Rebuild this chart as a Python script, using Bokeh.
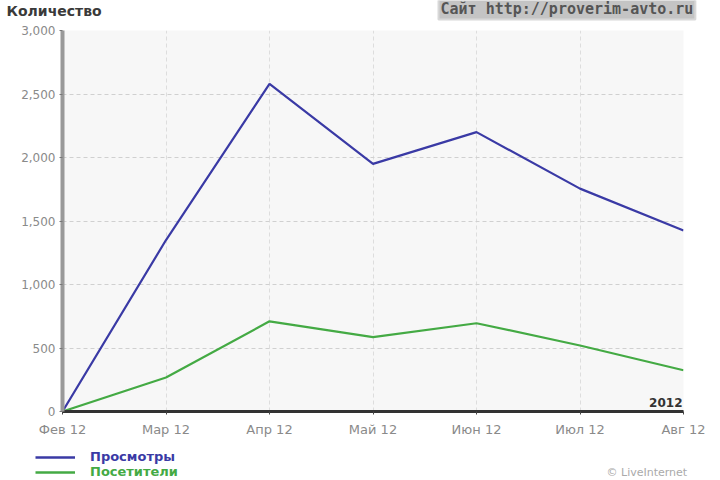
from bokeh.plotting import figure
from bokeh.models import Label, Legend, LegendItem, FixedTicker, Range1d, NumeralTickFormatter
from bokeh.embed import file_html
from bokeh.resources import INLINE

months = ["Фев 12", "Мар 12", "Апр 12", "Май 12", "Июн 12", "Июл 12", "Авг 12"]
views = [0, 1350, 2580, 1950, 2200, 1755, 1425]
visitors = [0, 268, 710, 585, 695, 520, 325]
y_ticks = [0, 500, 1000, 1500, 2000, 2500, 3000]
series_names = ["Просмотры", "Посетители"]
series_colors = ["#3a3aa5", "#44aa44"]

W = 720
xs = list(range(len(months)))


def bare(height, xr=(0, 1)):
    f = figure(width=W, height=height, output_backend="svg", toolbar_location=None,
               x_range=Range1d(*xr), y_range=Range1d(0, 1),
               min_border_left=0, min_border_right=0, min_border_top=0, min_border_bottom=0)
    f.axis.visible = False
    f.grid.visible = False
    f.outline_line_color = None
    f.background_fill_color = "white"
    return f


# header
header = bare(24)
header.add_layout(Label(x=6, y=14, x_units="screen", y_units="screen", text="Количество",
                        text_font="DejaVu Sans", text_font_size="14px", text_font_style="bold",
                        text_color="#3a3a3a", text_baseline="alphabetic"))
header.add_layout(Label(x=438, y=16, x_units="screen", y_units="screen",
                        text="Сайт http://proverim-avto.ru",
                        text_font="DejaVu Sans Mono", text_font_size="15px", text_font_style="bold",
                        text_color="#555555", text_baseline="middle",
                        background_fill_color="#c4c4c4", border_line_color="#d8d8d8",
                        border_line_width=2, padding=2))

# main chart
p = figure(width=W, height=420, output_backend="svg", toolbar_location=None,
           x_range=Range1d(0, len(months) - 1), y_range=Range1d(0, 3000),
           min_border_left=62, min_border_right=37, min_border_top=6, min_border_bottom=33)
p.background_fill_color = "#f7f7f7"
p.border_fill_color = "white"
p.outline_line_color = None

p.xaxis.ticker = FixedTicker(ticks=xs)
p.xaxis.major_label_overrides = {i: m for i, m in enumerate(months)}
p.yaxis.ticker = FixedTicker(ticks=y_ticks)
p.yaxis.formatter = NumeralTickFormatter(format="0,0")

for ax in (p.xaxis, p.yaxis):
    ax.major_label_text_color = "#8a8a8a"
    ax.major_label_text_font = "DejaVu Sans"
    ax.major_label_text_font_size = "12px"
    ax.minor_tick_line_color = None
    ax.major_tick_out = 3
    ax.major_tick_in = 0

p.xaxis.major_label_text_font_size = "13px"
p.yaxis.axis_line_color = "#999999"
p.yaxis.axis_line_width = 4
p.yaxis.major_tick_line_color = "#777777"
p.yaxis.major_label_standoff = 4
p.xaxis.axis_line_color = "#333333"
p.xaxis.axis_line_width = 3
p.xaxis.major_tick_line_color = "#444444"
p.xaxis.major_label_standoff = 7

p.ygrid.grid_line_color = "#d0d0d0"
p.ygrid.grid_line_dash = "4 3"
p.xgrid.grid_line_color = "#dddddd"
p.xgrid.grid_line_dash = "4 3"

p.line(xs, views, line_color=series_colors[0], line_width=2.2)
p.line(xs, visitors, line_color=series_colors[1], line_width=2.2)

p.add_layout(Label(x=620, y=5, x_units="screen", y_units="screen", text="2012",
                   text_align="right", text_font="DejaVu Sans",
                   text_font_size="12px", text_font_style="bold", text_color="#333333"))

# footer with legend (series drawn off-range so only their legend swatches show)
footer = bare(36, xr=(100, 101))
for i, (name, col, vals) in enumerate(zip(series_names, series_colors, [views, visitors])):
    swatch = footer.line(xs, vals, line_color=col, line_width=2.5)
    leg = Legend(items=[LegendItem(label=name, renderers=[swatch])],
                 location=(35, 16 - 15 * i),
                 background_fill_alpha=0, border_line_color=None,
                 glyph_width=40, glyph_height=14, label_height=14,
                 label_text_color=col, label_text_font="DejaVu Sans",
                 label_text_font_style="bold", label_text_font_size="13px",
                 padding=0, margin=0, spacing=0, label_standoff=15)
    footer.add_layout(leg)

footer.add_layout(Label(x=606, y=2, x_units="screen", y_units="screen", text="© LiveInternet",
                        text_font="DejaVu Sans", text_font_size="11px", text_color="#aaaaaa"))

open("out.html", "w").write(file_html([header, p, footer], INLINE))
